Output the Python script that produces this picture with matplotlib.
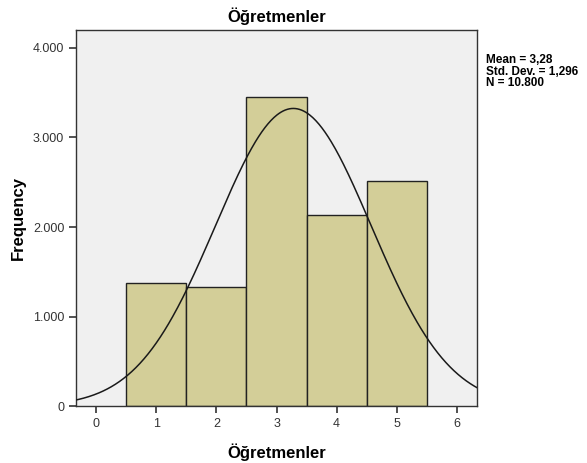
import numpy as np
import matplotlib.pyplot as plt

plt.rcParams['font.family'] = ['Liberation Sans', 'DejaVu Sans']

# histogram of scores (bins centred on 1..5)
categories = [1, 2, 3, 4, 5]
frequencies = [1375, 1330, 3450, 2135, 2510]
mean_val = 3.28
std_val = 1.296
n_total = 10800

fig = plt.figure(figsize=(5.87, 4.63), dpi=100)
ax = fig.add_axes([0.1295, 0.1231, 0.6831, 0.8119])
ax.set_facecolor('#f0f0f0')

ax.bar(categories, frequencies, width=1.0, color='#d3ce98',
       edgecolor='#222222', linewidth=1.0, zorder=2)

# fitted normal curve, scaled to the histogram
xs = np.linspace(-0.4, 6.4, 400)
ys = n_total * 1.0 / (std_val * np.sqrt(2 * np.pi)) * np.exp(-0.5 * ((xs - mean_val) / std_val) ** 2)
ax.plot(xs, ys, color='#1a1a1a', linewidth=1.1, zorder=3)

ax.set_xlim(-0.34, 6.34)
ax.set_ylim(0, 4200)
ax.set_xticks(range(0, 7))
ax.set_yticks([0, 1000, 2000, 3000, 4000])
ax.set_yticklabels(['0', '1.000', '2.000', '3.000', '4.000'])
ax.tick_params(direction='out', length=5, width=1.2, labelsize=9,
               labelcolor='#333333', color='#333333')

for s in ax.spines.values():
    s.set_color('#333333')
    s.set_linewidth(1.0)

ax.set_title('Öğretmenler', fontsize=12, fontweight='bold', pad=6)
ax.set_xlabel('Öğretmenler', fontsize=12, fontweight='bold', labelpad=10)
ax.set_ylabel('Frequency', fontsize=12, fontweight='bold', labelpad=5)

fig.text(486 / 587, 1 - 54 / 463,
         'Mean = 3,28\nStd. Dev. = 1,296\nN = 10.800',
         fontsize=8.5, fontweight='bold', va='top', ha='left', linespacing=0.95)

plt.savefig('out.png', dpi=100)
